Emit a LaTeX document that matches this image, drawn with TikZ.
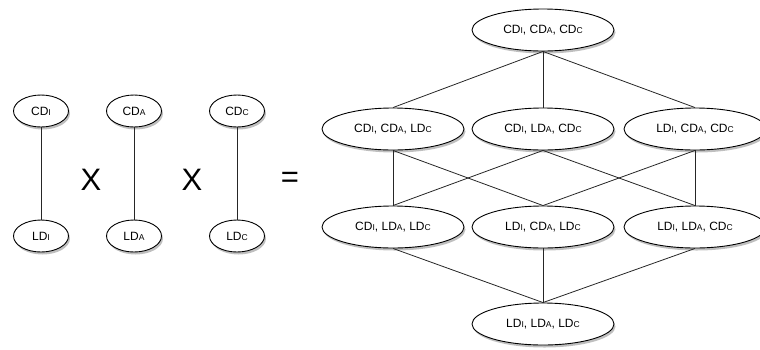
\documentclass[tikz,border=0pt]{standalone}
\usepackage{fontspec}
\setmainfont{Liberation Sans}
\usetikzlibrary{shapes.geometric,shadows}
\newcommand\smc[1]{{\fontsize{8.5}{8.5}\selectfont #1}}
\tikzset{
  el/.style={ellipse,draw=black,fill=white,line width=0.9pt,inner sep=0pt,
    font=\fontsize{12}{12}\selectfont,
    drop shadow={opacity=0.5,shadow xshift=1.5pt,shadow yshift=-2.5pt}},
  small/.style={el,minimum width=55pt,minimum height=32pt},
  big/.style={el,minimum width=142pt,minimum height=42pt},
  edge/.style={draw=black!85,line width=0.8pt},
  op/.style={font=\fontsize{31}{31}\selectfont,inner sep=0pt}
}
\begin{document}
\begin{tikzpicture}[x=1pt,y=-1pt]
\useasboundingbox (0,0) rectangle (760,349);
% left factors
\node[small] (cdi) at (41,111) {CD\smc{I}};
\node[small] (ldi) at (41,236) {LD\smc{I}};
\node[small] (cda) at (134,111) {CD\smc{A}};
\node[small] (lda) at (134,236) {LD\smc{A}};
\node[small] (cdc) at (237,111) {CD\smc{C}};
\node[small] (ldc) at (237,236) {LD\smc{C}};
\draw[edge] (cdi) -- (ldi);
\draw[edge] (cda) -- (lda);
\draw[edge] (cdc) -- (ldc);
\node[op] (x1) at (91,180) {X};
\node[op] (x2) at (192,180) {X};
\node[op] (eq) at (290,180) {=};
% lattice
\node[big] (t) at (543,30) {CD\smc{I}, CD\smc{A}, CD\smc{C}};
\node[big] (m1) at (393,129) {CD\smc{I}, CD\smc{A}, LD\smc{C}};
\node[big] (m2) at (543,129) {CD\smc{I}, LD\smc{A}, CD\smc{C}};
\node[big] (m3) at (695,129) {LD\smc{I}, CD\smc{A}, CD\smc{C}};
\node[big] (l1) at (393,227) {CD\smc{I}, LD\smc{A}, LD\smc{C}};
\node[big] (l2) at (543,227) {LD\smc{I}, CD\smc{A}, LD\smc{C}};
\node[big] (l3) at (695,227) {LD\smc{I}, LD\smc{A}, CD\smc{C}};
\node[big] (b) at (543,324) {LD\smc{I}, LD\smc{A}, LD\smc{C}};
\draw[edge] (t.south) -- (m1.north);
\draw[edge] (t.south) -- (m2.north);
\draw[edge] (t.south) -- (m3.north);
\draw[edge] (m1.south) -- (l1.north);
\draw[edge] (m1.south) -- (l2.north);
\draw[edge] (m2.south) -- (l1.north);
\draw[edge] (m2.south) -- (l3.north);
\draw[edge] (m3.south) -- (l2.north);
\draw[edge] (m3.south) -- (l3.north);
\draw[edge] (l1.south) -- (b.north);
\draw[edge] (l2.south) -- (b.north);
\draw[edge] (l3.south) -- (b.north);
\end{tikzpicture}
\end{document}
